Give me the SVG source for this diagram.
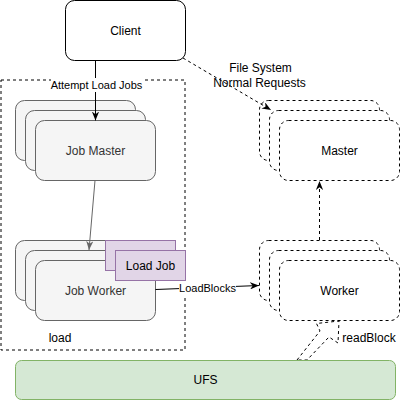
<svg xmlns="http://www.w3.org/2000/svg" width="400" height="401" viewBox="0 0 400 401">
<defs>
<style>
text{font-family:"Liberation Sans",Arial,sans-serif;font-size:12px;text-anchor:middle;fill:#000}
.gray{fill:#f5f5f5;stroke:#666666;stroke-width:1}
.dash{fill:#ffffff;stroke:#000;stroke-width:1;stroke-dasharray:3 3}
.solid{fill:#ffffff;stroke:#000;stroke-width:1}
.purple{fill:#e1d5e7;stroke:#9673a6;stroke-width:1}
.green{fill:#d5e8d4;stroke:#82b366;stroke-width:1}
.edge{fill:none;stroke:#000;stroke-width:1}
.lbl{font-size:11px}
</style>
<marker id="arr" viewBox="0 0 10 8" refX="10" refY="4" markerWidth="9" markerHeight="7.2" markerUnits="userSpaceOnUse" orient="auto"><path d="M0,0 L10,4 L0,8 L3,4 Z" fill="#000" stroke="none"/></marker>
<marker id="arrg" viewBox="0 0 10 8" refX="10" refY="4" markerWidth="9" markerHeight="7.2" markerUnits="userSpaceOnUse" orient="auto"><path d="M0,0 L10,4 L0,8 L3,4 Z" fill="#666666" stroke="none"/></marker>
</defs>
<rect width="400" height="401" fill="#fff"/>

<g id="load-container">
<rect x="1" y="80" width="184" height="270" fill="none" stroke="#000" stroke-dasharray="3 3"/>
<text x="60" y="342">load</text>
</g>

<g id="client">
<rect class="solid" x="65.5" y="0.5" width="120" height="60" rx="9"/>
<text x="125.5" y="35">Client</text>
</g>

<g id="job-master">
<rect class="gray" x="15.5" y="100.5" width="120" height="60" rx="9"/>
<rect class="gray" x="25.5" y="110.5" width="120" height="60" rx="9"/>
<rect class="gray" x="35.5" y="120.5" width="120" height="60" rx="9"/>
<text x="95.5" y="155" fill="#333333" style="fill:#333333">Job Master</text>
</g>

<g id="job-worker">
<rect class="gray" x="15.5" y="240.5" width="120" height="60" rx="9"/>
<rect class="gray" x="25.5" y="250.5" width="120" height="60" rx="9"/>
<rect class="gray" x="35.5" y="260.5" width="120" height="60" rx="9"/>
<text x="95.5" y="295" style="fill:#333333">Job Worker</text>
</g>

<g id="load-job">
<rect class="purple" x="105.5" y="240.5" width="70" height="30"/>
<rect class="purple" x="115.5" y="250.5" width="70" height="30"/>
<text x="150.5" y="270">Load Job</text>
</g>

<g id="master">
<rect class="dash" x="259.5" y="100.5" width="120" height="60" rx="9"/>
<rect class="dash" x="269.5" y="110.5" width="120" height="60" rx="9"/>
<rect class="dash" x="279.5" y="120.5" width="120" height="60" rx="9"/>
<text x="339.5" y="155">Master</text>
</g>

<g id="worker">
<rect class="dash" x="259.5" y="240.5" width="120" height="60" rx="9"/>
<rect class="dash" x="269.5" y="250.5" width="120" height="60" rx="9"/>
<rect class="dash" x="279.5" y="260.5" width="120" height="60" rx="9"/>
<text x="339.5" y="295">Worker</text>
</g>

<g id="connectors">
<line class="edge" x1="95.5" y1="60.5" x2="95.5" y2="120.5" marker-end="url(#arr)"/>
<rect x="51" y="78" width="91" height="14" fill="#fff"/>
<text class="lbl" x="96.5" y="89">Attempt Load Jobs</text>

<line class="edge" x1="95" y1="180.5" x2="89" y2="250" stroke="#666666" style="stroke:#666666" marker-end="url(#arrg)"/>

<line class="edge" x1="155.5" y1="289.5" x2="259" y2="285.5" marker-end="url(#arr)"/>
<rect x="179" y="281" width="57" height="14" fill="#fff"/>
<text class="lbl" x="207.5" y="292">LoadBlocks</text>

<line class="edge" x1="183" y1="58" x2="271" y2="110" stroke-dasharray="3 3" marker-end="url(#arr)"/>
<text x="260.5" y="72">File System</text>
<text x="259.5" y="87">Normal Requests</text>

<line class="edge" x1="319.5" y1="240" x2="319.5" y2="181" stroke-dasharray="3 3" marker-end="url(#arr)"/>

<path d="M297,360 L320,331 L316.5,323.5 L339,321 L338,343 L329,337 L307,360 Z" fill="#fff" stroke="#000" stroke-dasharray="3 3"/>
<text x="369" y="342">readBlock</text>
</g>

<g id="ufs">
<rect class="green" x="15.5" y="360.5" width="380" height="39" rx="6"/>
<text x="205.5" y="384">UFS</text>
</g>
</svg>
